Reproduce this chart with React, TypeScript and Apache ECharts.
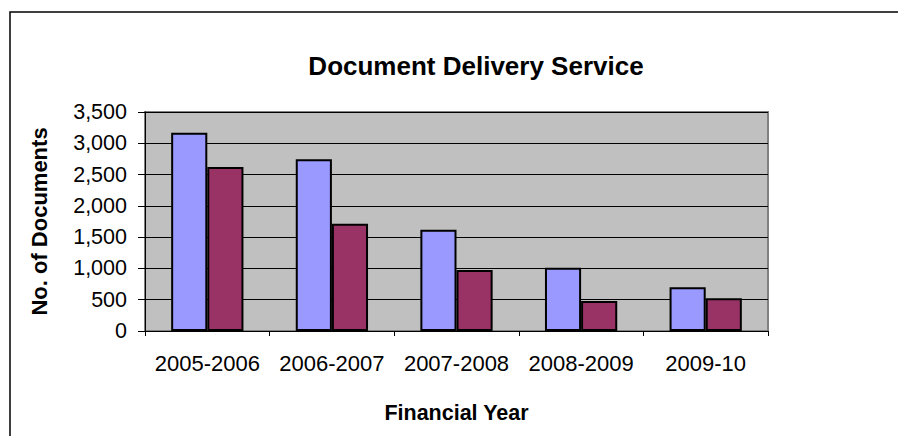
import React, { useEffect, useRef } from "react";
import * as echarts from "echarts";

const categories = ["2005-2006", "2006-2007", "2007-2008", "2008-2009", "2009-10"];
const seriesA = [3170, 2745, 1620, 1010, 700];
const seriesB = [2620, 1715, 975, 480, 525];
const yTicks = { min: 0, max: 3500, interval: 500 };

const FONT = "'Liberation Sans', Arial, sans-serif";

export default function App() {
  const ref = useRef<HTMLDivElement>(null);
  useEffect(() => {
    if (!ref.current) return;
    document.body.style.margin = "0";
    document.body.style.overflow = "hidden";
    const chart = echarts.init(ref.current, undefined, { renderer: "svg" });
    chart.setOption({
      animation: false,
      backgroundColor: "#ffffff",
      textStyle: { fontFamily: FONT },
      graphic: [
        {
          type: "polyline",
          shape: { points: [[10, 436], [10, 12], [898, 12]] },
          style: { stroke: "#000000", lineWidth: 1.5, fill: "none" },
          z: 100,
        },
        {
          type: "text",
          x: 476,
          y: 66,
          style: {
            text: "Document Delivery Service",
            fontFamily: FONT,
            fontSize: 26,
            fontWeight: "bold",
            fill: "#000000",
            align: "center",
            verticalAlign: "middle",
          },
        },
      ],
      grid: {
        left: 145,
        right: 130,
        top: 112,
        bottom: 105,
        show: true,
        backgroundColor: "#C0C0C0",
        borderColor: "#808080",
        borderWidth: 2,
      },
      xAxis: {
        type: "category",
        data: categories,
        name: "Financial Year",
        nameLocation: "middle",
        nameGap: 71,
        nameTextStyle: { fontFamily: FONT, fontSize: 21.5, fontWeight: "bold", color: "#000" },
        axisLine: { show: true, lineStyle: { color: "#000", width: 1 } },
        axisTick: { show: true, length: 5, lineStyle: { color: "#000" } },
        axisLabel: { fontFamily: FONT, fontSize: 22, color: "#000", margin: 21, interval: 0 },
        splitLine: { show: false },
      },
      yAxis: {
        type: "value",
        min: yTicks.min,
        max: yTicks.max,
        interval: yTicks.interval,
        name: "No. of Documents",
        nameLocation: "middle",
        nameGap: 95,
        nameRotate: 90,
        nameTextStyle: { fontFamily: FONT, fontSize: 22, fontWeight: "bold", color: "#000" },
        axisLine: { show: true, lineStyle: { color: "#000", width: 1 } },
        axisTick: { show: true, length: 7, lineStyle: { color: "#000" } },
        axisLabel: {
          fontFamily: FONT,
          fontSize: 21.5,
          color: "#000",
          margin: 18,
          formatter: (v: number) => v.toLocaleString("en-US"),
        },
        splitLine: { show: true, lineStyle: { color: "#000", width: 1 } },
      },
      series: [
        {
          name: "Series1",
          type: "bar",
          data: seriesA,
          barGap: "0%",
          barCategoryGap: "42%",
          itemStyle: { color: "#9999FF", borderColor: "#000", borderWidth: 2 },
        },
        {
          name: "Series2",
          type: "bar",
          data: seriesB,
          barGap: "0%",
          barCategoryGap: "42%",
          itemStyle: { color: "#993366", borderColor: "#000", borderWidth: 2 },
        },
      ],
    });
    return () => chart.dispose();
  }, []);
  return (
    <div
      ref={ref}
      style={{ position: "fixed", left: 0, top: 0, width: 898, height: 436 }}
    />
  );
}
